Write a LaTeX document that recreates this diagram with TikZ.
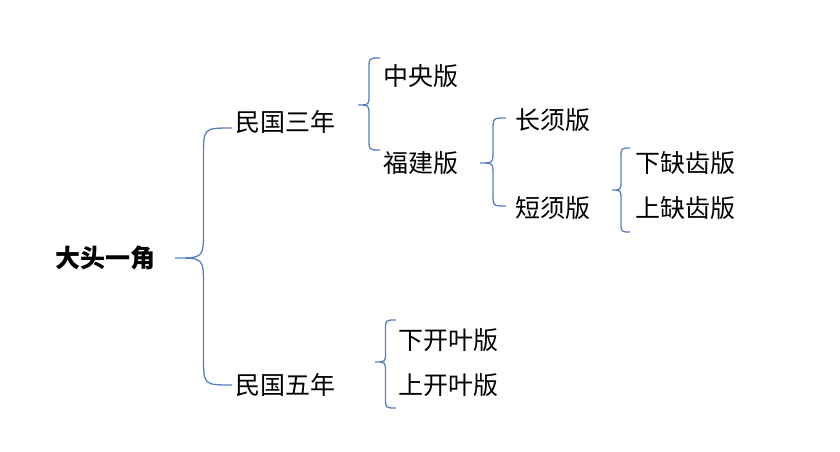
\documentclass[tikz,border=0pt]{standalone}
\usepackage{fontspec}
\newfontfamily\cjk{Noto Sans CJK SC}
\newcommand{\mybrace}[6]{% cx cy ex top bottom r
  \pgfmathsetmacro{\mx}{(#1+#3)/2}
  \draw[br] (#3,#4) .. controls (\mx,#4) .. (\mx,#4+#6) -- (\mx,#2-#6) .. controls (\mx,#2) .. (#1,#2)
    .. controls (\mx,#2) .. (\mx,#2+#6) -- (\mx,#5-#6) .. controls (\mx,#5) .. (#3,#5);}
\begin{document}
\begin{tikzpicture}[x=1pt,y=-1pt,
  lbl/.style={anchor=west,inner sep=0pt,font=\cjk\fontsize{25}{25}\selectfont},
  br/.style={draw=blue!45!cyan!60!black!70,line width=1.3pt,color={rgb,255:red,91;green,128;blue,190}}]
\useasboundingbox (0,0) rectangle (840,452);
\node[lbl,font=\cjk\bfseries\fontsize{25}{25}\selectfont] (root) at (55,258) {大头一角};
\node[lbl] (a) at (235,122) {民国三年};
\node[lbl] (b) at (235,385) {民国五年};
\node[lbl] (a1) at (383,76) {中央版};
\node[lbl] (a2) at (383,163) {福建版};
\node[lbl] (c1) at (515,120) {长须版};
\node[lbl] (c2) at (515,208) {短须版};
\node[lbl] (d1) at (635,163) {下缺齿版};
\node[lbl] (d2) at (635,208) {上缺齿版};
\node[lbl] (b1) at (398,340) {下开叶版};
\node[lbl] (b2) at (398,385) {上开叶版};
\mybrace{175}{258}{232}{128}{385}{28}
\mybrace{358}{105}{380}{58}{150}{10}
\mybrace{480}{163}{506}{118}{206}{12}
\mybrace{612}{190}{630}{148}{232}{10}
\mybrace{375}{362}{396}{320}{408}{10}
\end{tikzpicture}
\end{document}
